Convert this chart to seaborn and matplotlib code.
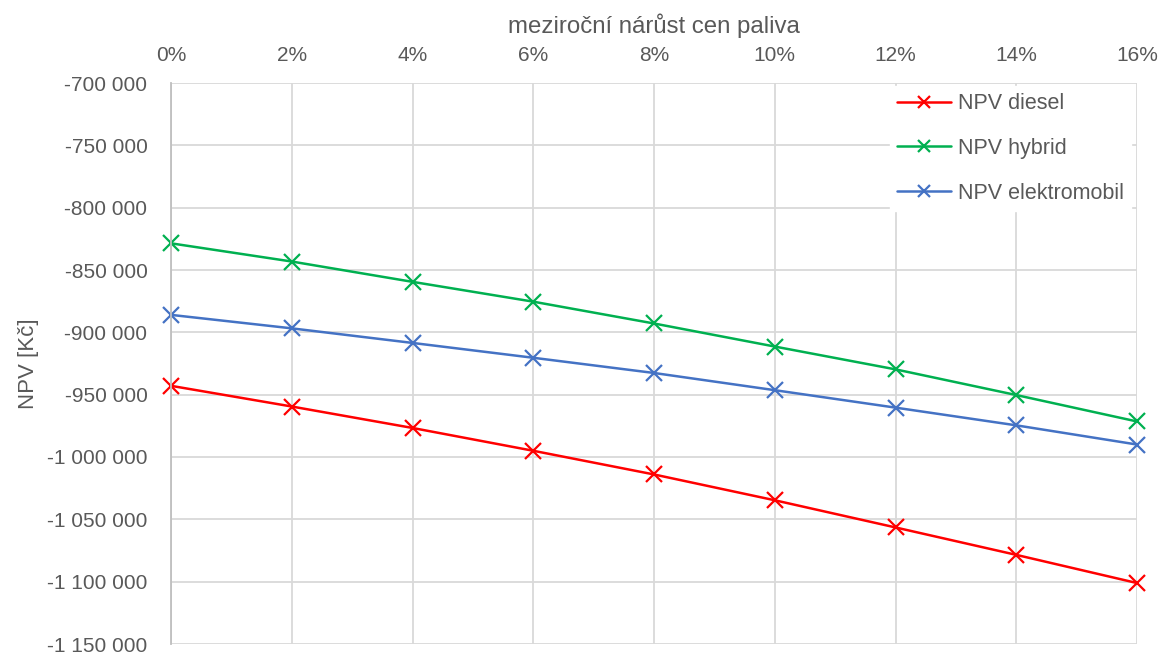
import matplotlib
matplotlib.use("Agg")
import matplotlib.pyplot as plt
from matplotlib.ticker import FuncFormatter, MultipleLocator
import pandas as pd
import seaborn as sns

# Annual fuel price growth (%) and net present value of each vehicle option (Kč)
growth = [0, 2, 4, 6, 8, 10, 12, 14, 16]
npv_diesel = [-942900, -959500, -976700, -995000, -1014000, -1034700, -1056500, -1078500, -1101100]
npv_hybrid = [-828600, -843200, -859500, -875400, -892900, -911400, -929700, -950300, -971500]
npv_electric = [-886000, -896800, -908500, -920400, -932600, -946400, -960400, -974600, -990000]

series_names = ["NPV diesel", "NPV hybrid", "NPV elektromobil"]
series_values = [npv_diesel, npv_hybrid, npv_electric]
colors = ["#ff0000", "#00b050", "#4472c4"]

df = pd.concat(
    [pd.DataFrame({"growth": growth, "npv": vals, "series": name})
     for name, vals in zip(series_names, series_values)],
    ignore_index=True,
)

sns.set_theme(style="white")
plt.rcParams["font.family"] = ["Liberation Sans", "DejaVu Sans"]
text_color = "#595959"

W, H = 1160, 656
left_px, right_px, top_px, bottom_px = 171, 1137, 83, 644
fig = plt.figure(figsize=(W / 100, H / 100), dpi=100)
ax = fig.add_axes([left_px / W, 1 - bottom_px / H,
                   (right_px - left_px) / W, (bottom_px - top_px) / H])

sns.lineplot(
    data=df, x="growth", y="npv", hue="series", style="series",
    hue_order=series_names, style_order=series_names,
    palette=dict(zip(series_names, colors)),
    markers={n: "x" for n in series_names}, dashes=False,
    linewidth=1.8, markersize=12, markeredgewidth=1.6,
    ax=ax, legend=True,
)
# x markers are drawn with their edge, so give the edge the line colour
for line in ax.lines:
    line.set_markeredgecolor(line.get_color())
    line.set_clip_on(False)

ax.set_xlim(0, 16)
ax.set_ylim(-1150000, -700000)
ax.xaxis.set_major_locator(MultipleLocator(2))
ax.yaxis.set_major_locator(MultipleLocator(50000))
ax.xaxis.set_major_formatter(FuncFormatter(lambda v, _: f"{int(round(v))}%"))
ax.yaxis.set_major_formatter(FuncFormatter(lambda v, _: f"{int(round(v)):,}".replace(",", " ")))

ax.xaxis.tick_top()
ax.xaxis.set_label_position("top")
ax.tick_params(axis="x", length=0, pad=13, labelsize=15, labelcolor=text_color)
ax.tick_params(axis="y", length=0, pad=17, labelsize=15, labelcolor=text_color)

ax.grid(True, color="#d9d9d9", linewidth=1.3)
ax.set_axisbelow(True)
for side in ["top", "right", "bottom"]:
    ax.spines[side].set_visible(False)
ax.spines["left"].set_color("#bfbfbf")
ax.spines["left"].set_linewidth(1.3)

ax.set_xlabel("meziroční nárůst cen paliva", fontsize=17.3, color=text_color, labelpad=9)
ax.set_ylabel("NPV [Kč]", fontsize=16, color=text_color, labelpad=6)

leg = ax.legend(
    loc="upper right", bbox_to_anchor=(0.994, 0.995), frameon=True, fancybox=False,
    fontsize=15.5, handlelength=2.5, handletextpad=0.3, labelspacing=1.1,
    borderpad=0.35, borderaxespad=0.0,
)
leg.get_frame().set_facecolor("white")
leg.get_frame().set_edgecolor("white")
leg.get_frame().set_alpha(1.0)
for t in leg.get_texts():
    t.set_color(text_color)
for h in leg.legend_handles:
    h.set_markersize(9)
    h.set_markeredgecolor(h.get_color())
    h.set_markeredgewidth(1.6)

fig.savefig("out.png", dpi=100, facecolor="white")
